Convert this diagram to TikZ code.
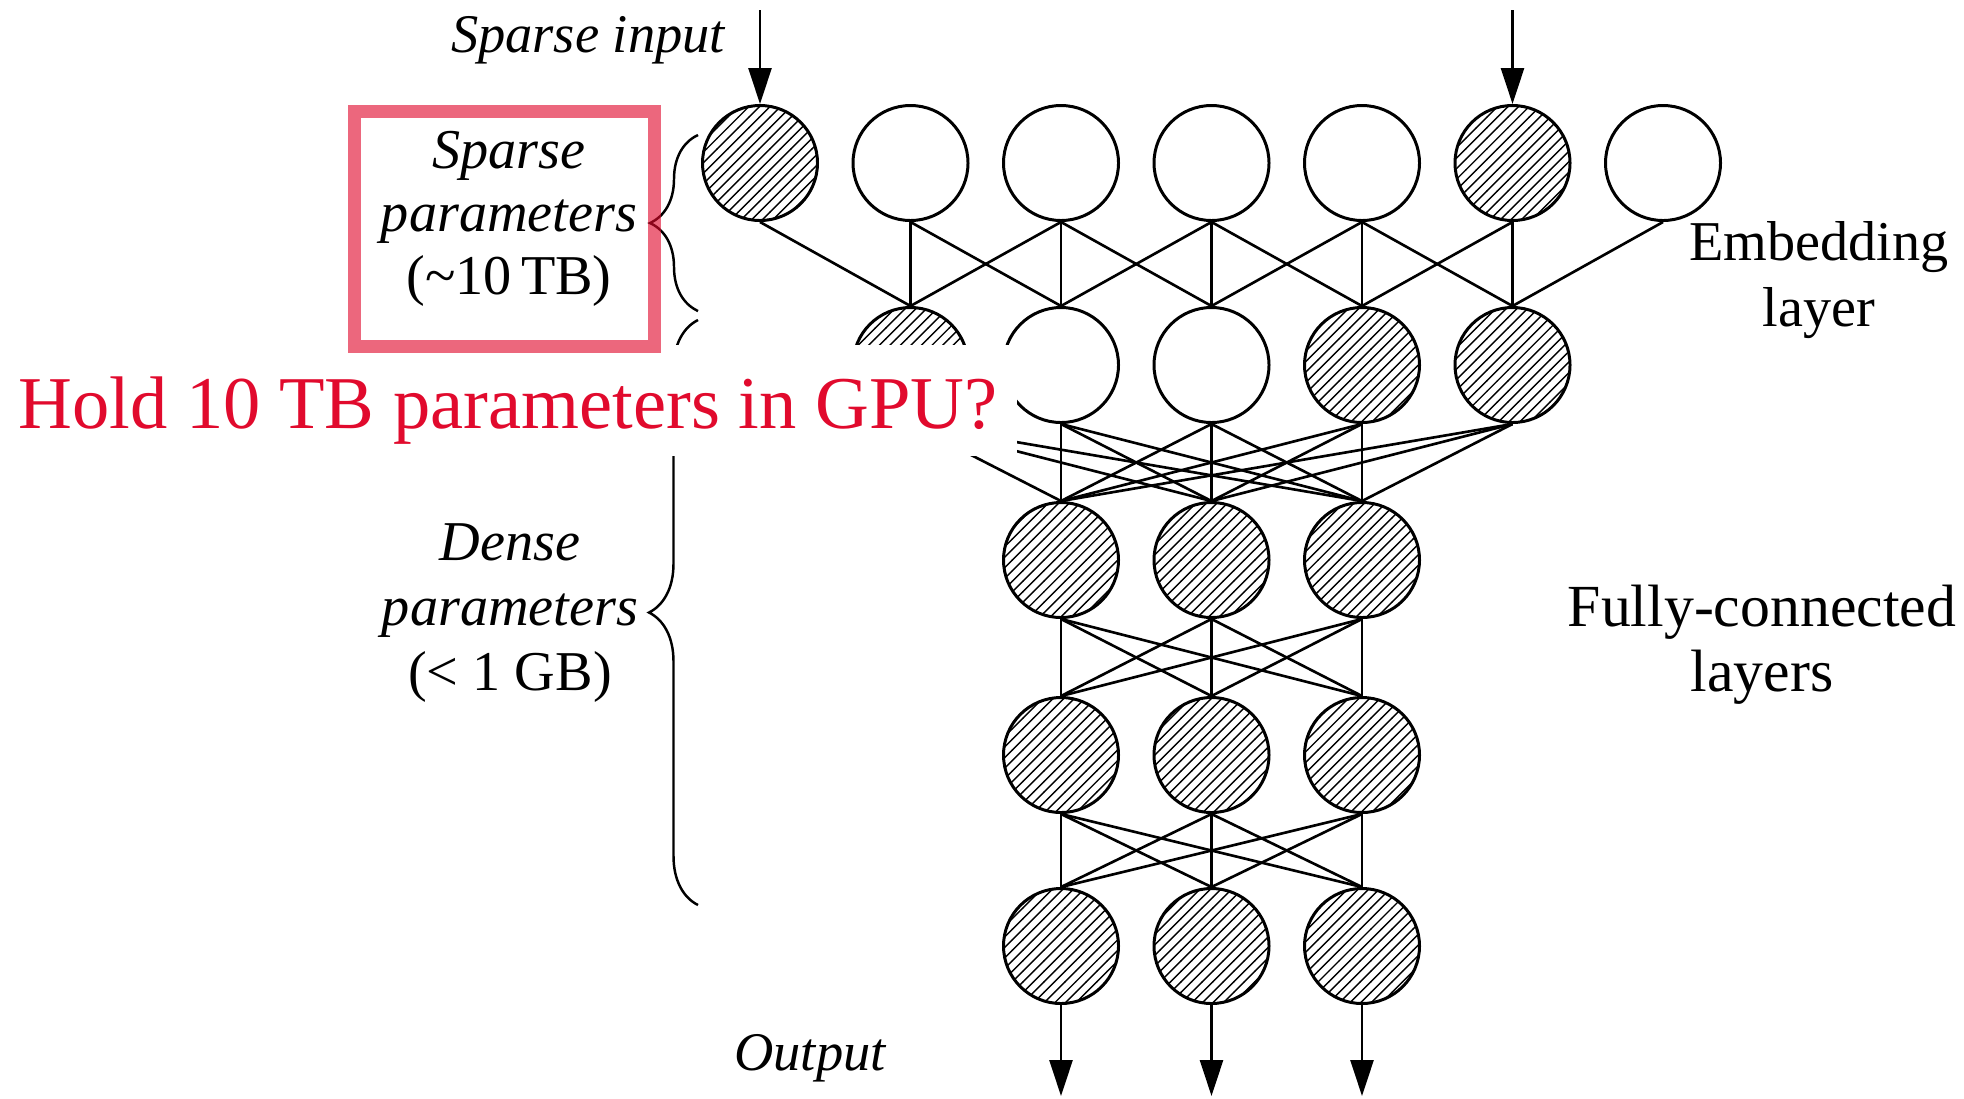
\documentclass[tikz,border=0pt]{standalone}
\usepackage{fontspec}
\setmainfont{Liberation Serif}
\usepackage{xcolor}
\usepackage{tikz}
\usetikzlibrary{arrows.meta, patterns, decorations.pathreplacing}
\definecolor{alertred}{RGB}{225,10,45}

\begin{document}
\begin{tikzpicture}[
  x=0.1mm, y=-0.1mm,
  unit/.style={circle, draw, line width=0.85pt, minimum size=1.15cm, inner sep=0pt},
  hot/.style={unit, pattern=north east lines},
  link/.style={line width=0.75pt},
  flow/.style={line width=0.75pt, -{Triangle[length=3.6mm, width=2.3mm]}},
  curly/.style={decorate, line width=0.7pt, decoration={brace, amplitude=#1}},
  lbl/.style={align=center, inner sep=0pt, font=\fontsize{16}{19}\selectfont},
  ilbl/.style={inner sep=0pt, font=\fontsize{15.5}{19}\selectfont\itshape},
]
  \useasboundingbox (0,0) rectangle (1964,1098);
  % embedding layer
  \foreach \i/\s in {1/hot,2/unit,3/unit,4/unit,5/unit,6/hot,7/unit}
    \node[\s] (e\i) at ({760+150.5*(\i-1)}, 163) {};
  \foreach \i/\s in {2/hot,3/unit,4/unit,5/hot,6/hot}
    \node[\s] (s\i) at ({760+150.5*(\i-1)}, 365) {};
  % fully-connected layers
  \foreach \r/\y in {1/560, 2/755, 3/946}
    \foreach \j in {1,2,3}
      \node[hot] (f\r-\j) at ({1061+150.5*(\j-1)}, \y) {};

  \foreach \k in {2,...,6} {
    \pgfmathtruncatemacro\a{\k-1}
    \pgfmathtruncatemacro\b{\k+1}
    \foreach \m in {\a,\k,\b}
      \draw[link] (e\m.south) -- (s\k.north);
    \foreach \j in {1,2,3}
      \draw[link] (s\k.south) -- (f1-\j.north);
  }
  \foreach \j in {1,2,3}
    \foreach \l in {1,2,3} {
      \draw[link] (f1-\j.south) -- (f2-\l.north);
      \draw[link] (f2-\j.south) -- (f3-\l.north);
    }

  % inputs and outputs
  \coordinate (in1) at (760, 10);
  \coordinate (in6) at (1512.5, 10);
  \draw[flow] (in1) -- (e1.north);
  \draw[flow] (in6) -- (e6.north);
  \foreach \j in {1,2,3} {
    \coordinate (out\j) at ({1061+150.5*(\j-1)}, 1096);
    \draw[flow] (f3-\j.south) -- (out\j);
  }

  \node[ilbl, anchor=base] (inlbl) at (588, 52) {Sparse input};
  \node[ilbl, anchor=base] (outlbl) at (810, 1070) {Output};
  \node[lbl] (emblbl) at (1819, 280) {Embedding\\layer};
  \node[lbl, font=\fontsize{17}{18.4}\selectfont] (fclbl) at (1762, 645)
    {Fully-connected\\layers};

  \node[lbl, font=\fontsize{16}{17.9}\selectfont] (sparselbl) at (509, 219)
    {\textit{Sparse}\\\textit{parameters}\\(\textasciitilde 10\,TB)};
  \node[lbl, font=\fontsize{16}{18.5}\selectfont] (denselbl) at (510, 613)
    {\textit{Dense}\\\textit{parameters}\\(< 1 GB)};
  \draw[curly=4.8mm] (698,311) -- (698,135);
  \draw[curly=4.9mm] (698,905) -- (698,320);

  \node[anchor=base, fill=white, inner sep=0pt, minimum width=10.17cm,
        text height=0.83cm, text depth=0.28cm, text=alertred,
        font=\fontsize{21.2}{25}\selectfont] (ask) at (508, 428)
    {Hold 10 TB parameters in GPU?};
  \node[draw=alertred, draw opacity=0.62, line width=1.3mm,
        minimum width=3.0cm, minimum height=2.35cm] (hl) at (504.5, 229) {};
\end{tikzpicture}
\end{document}
